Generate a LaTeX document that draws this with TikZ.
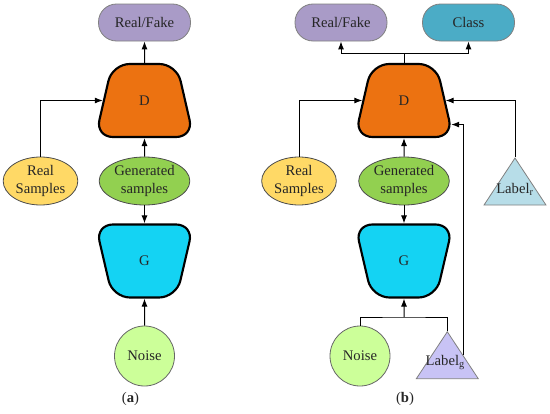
\documentclass[tikz,border=0pt]{standalone}
\usepackage{fontspec}
\setmainfont{Liberation Serif}
\usetikzlibrary{shapes.geometric,arrows.meta}

\definecolor{cDisc}{HTML}{EC7211}
\definecolor{cGen}{HTML}{14D3F3}
\definecolor{cRF}{HTML}{A99BC7}
\definecolor{cCls}{HTML}{4BACC6}
\definecolor{cReal}{HTML}{FFD966}
\definecolor{cGsmp}{HTML}{92D050}
\definecolor{cNoise}{HTML}{CCFF99}
\definecolor{cLabR}{HTML}{B7DDE8}
\definecolor{cLabG}{HTML}{C8C3F5}

\begin{document}
\begin{tikzpicture}[x=0.75pt,y=0.75pt,yscale=-1,xscale=1,
  every node/.style={font=\fontsize{11}{13.5}\selectfont, text=black!85},
  arr/.style={line width=0.75pt, -{Latex[length=6pt,width=4.5pt]}},
  wire/.style={line width=0.75pt},
  netD/.style={trapezium, trapezium stretches=true, trapezium left angle=74, trapezium right angle=74, minimum width=73.5pt, minimum height=54.75pt, inner sep=0pt, rounded corners=13pt, draw, line width=1.6pt, fill=cDisc},
  netG/.style={netD, shape border rotate=180, fill=cGen},
  outbox/.style={rectangle, rounded corners=13.5pt, minimum width=69pt, minimum height=27.75pt, draw=black!50, line width=0.6pt},
  sample/.style={ellipse, minimum height=36pt, inner sep=0pt, align=center, draw=black!70, line width=0.6pt},
  noisec/.style={circle, minimum size=45pt, inner sep=0pt, draw=black!60, fill=cNoise, line width=0.6pt},
  lbltri/.style={isosceles triangle, isosceles triangle stretches=true, shape border rotate=90, minimum width=46.5pt, minimum height=35.25pt, inner sep=0pt, draw=black!50, line width=0.6pt, anchor=apex}
]
%set diagram size to 550 x 414
\path[use as bounding box] (0,0) rectangle (550,414);

%% ---------- (a) ----------
%Shape: Rounded Rect
\node[outbox, fill=cRF] (rf1) at (144.5,22.5) {Real/Fake};
%Shape: Trapezium
\node[netD] (D1) at (144.5,100.5) {D};
\node[netG] (G1) at (144.5,261) {G};
%Shape: Ellipse
\node[sample, fill=cReal, minimum width=56pt] (rs1) at (40.5,181) {Real\\Samples};
\node[sample, fill=cGsmp, minimum width=68pt] (gs1) at (144.5,181) {Generated\\samples};
%Shape: Circle
\node[noisec] (noise1) at (144.5,356) {Noise};

%Straight Lines
\draw[arr] (D1) -- (rf1);
\draw[arr] (rs1.north) |- (D1.west);
\draw[arr] (gs1) -- (D1);
\draw[arr] (gs1) -- (G1);
\draw[arr] (noise1) -- (G1);

% Text Node
\node (capa) at (130.5,399) {(\textbf{a})};

%% ---------- (b) ----------
%Shape: Rounded Rect
\node[outbox, fill=cRF] (rf2) at (341,22.5) {Real/Fake};
\node[outbox, fill=cCls] (cls) at (468.5,22.5) {Class};
%Shape: Trapezium
\node[netD] (D2) at (404,100.5) {D};
\node[netG] (G2) at (404,261) {G};
%Shape: Ellipse
\node[sample, fill=cReal, minimum width=56pt] (rs2) at (299,181) {Real\\Samples};
\node[sample, fill=cGsmp, minimum width=68pt] (gs2) at (404,181) {Generated\\samples};
%Shape: Circle
\node[noisec] (noise2) at (360,356) {Noise};
%Shape: Triangle
\node[lbltri, fill=cLabR] (labr) at (515,157) {};
\node[lbltri, fill=cLabG] (labg) at (447.3,330.7) {};
% Text Node
\node (labrtxt) at ([yshift=24.5pt]labr.apex) {Label\textsubscript{r}};
\node (labgtxt) at ([yshift=24pt,xshift=-1.5pt]labg.apex) {Label\textsubscript{g}};
\coordinate (mrg) at (404,317);

%Straight Lines
\draw[arr] (D2.north) -- ++(0,-9) -| (rf2.south);
\draw[arr] (D2.north) -- ++(0,-9) -| (cls.south);
\draw[arr] (rs2.north) |- (D2.west);
\draw[arr] (labr.apex) |- (D2.east);
\draw[arr] (labg.right side) |- (D2.-27);
\draw[arr] (gs2) -- (D2);
\draw[arr] (gs2) -- (G2);
\draw[wire] (noise2.north) |- (mrg) -| (labg.apex);
\draw[arr] (mrg) -- (G2.south);

% Text Node
\node (capb) at (405,399) {(\textbf{b})};

\end{tikzpicture}
\end{document}
